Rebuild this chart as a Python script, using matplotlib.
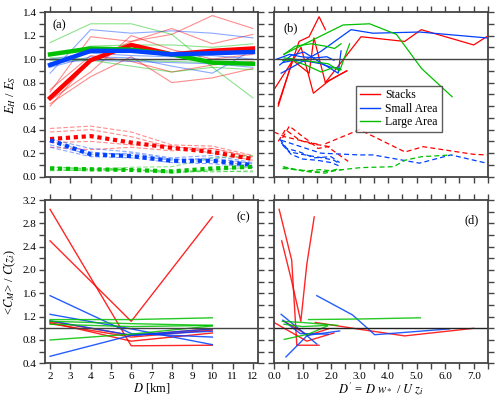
import matplotlib
matplotlib.use("Agg")
import matplotlib.pyplot as plt
from matplotlib.ticker import MultipleLocator, FormatStrFormatter

plt.rcParams['font.family'] = ['Liberation Serif', 'DejaVu Serif']
plt.rcParams['mathtext.fontset'] = 'stix'

# ---------------- data: panel (a) ----------------
D_a = [2, 4, 6, 8, 10, 12]
red_mean = [0.67, 0.99, 1.12, 1.04, 1.07, 1.09]
blue_mean = [0.95, 1.07, 1.07, 1.04, 1.05, 1.06]
green_mean = [1.04, 1.09, 1.08, 1.04, 0.97, 0.96]
red_low_mean = [0.32, 0.345, 0.29, 0.245, 0.21, 0.15]
blue_low_mean = [0.31, 0.19, 0.175, 0.135, 0.135, 0.10]
green_low_mean = [0.07, 0.063, 0.057, 0.045, 0.07, 0.085]

red_a = [[0.72, 1.19, 1.15, 1.26, 1.13, 1.21],
         [0.60, 0.99, 1.15, 1.21, 1.37, 1.26],
         [0.65, 0.89, 1.20, 1.08, 1.00, 1.04],
         [0.62, 0.85, 1.02, 0.80, 0.84, 0.92],
         [0.74, 1.03, 0.98, 0.89, 0.95, 0.98]]
blue_a = [[0.88, 1.25, 1.22, 1.24, 1.22, 1.18],
          [0.93, 1.02, 1.01, 0.94, 0.88, 1.08],
          [0.97, 0.99, 0.98, 0.97, 0.96, 0.93],
          [1.00, 1.05, 1.03, 1.02, 1.03, 1.00]]
green_a = [[1.14, 1.30, 1.30, 1.21, 0.93, 0.67],
           [1.03, 1.11, 1.12, 1.12, 1.10, 1.13],
           [0.99, 0.99, 0.94, 0.89, 0.93, 0.91],
           [1.01, 1.00, 0.99, 0.98, 0.97, 0.97]]
red_a_low = [[0.41, 0.43, 0.38, 0.27, 0.26, 0.18],
             [0.38, 0.40, 0.34, 0.25, 0.24, 0.16],
             [0.29, 0.30, 0.27, 0.26, 0.20, 0.14],
             [0.25, 0.23, 0.25, 0.22, 0.24, 0.17]]
blue_a_low = [[0.32, 0.24, 0.21, 0.16, 0.18, 0.12],
              [0.27, 0.19, 0.20, 0.15, 0.14, 0.09],
              [0.25, 0.17, 0.16, 0.12, 0.11, 0.08],
              [0.30, 0.21, 0.18, 0.14, 0.16, 0.11]]
green_a_low = [[0.08, 0.07, 0.06, 0.04, 0.06, 0.08],
               [0.06, 0.05, 0.06, 0.03, 0.05, 0.04],
               [0.085, 0.06, 0.08, 0.085, 0.16, 0.18],
               [0.05, 0.06, 0.06, 0.05, 0.04, 0.05]]

# ---------------- data: panel (b) ----------------
red_b_x = [[1.80, 3.05, 4.58, 5.16, 7.0, 7.45],
           [0.15, 0.65, 0.88, 1.23, 1.58, 1.80],
           [0.0, 0.66, 1.23, 1.40, 1.80, 2.55],
           [0.15, 0.66, 0.95, 1.38, 1.95, 2.55]]
red_b_y = [[0.80, 1.19, 1.15, 1.25, 1.12, 1.19],
           [0.60, 0.99, 1.15, 1.19, 1.36, 1.25],
           [0.74, 0.99, 0.88, 1.18, 0.80, 0.90],
           [0.62, 0.99, 1.10, 0.71, 0.82, 0.90]]
blue_b_x = [[0.25, 1.64, 2.70, 3.47, 5.1, 7.45],
            [0.2, 0.6, 1.05, 1.5, 2.25, 2.35],
            [0.3, 0.7, 1.2, 1.65, 2.0, 2.3],
            [0.1, 0.55, 0.95, 1.45, 1.85, 2.1]]
blue_b_y = [[0.88, 1.065, 1.25, 1.22, 1.23, 1.18],
            [0.95, 1.03, 1.06, 0.99, 0.88, 1.07],
            [0.97, 0.99, 0.98, 0.96, 0.93, 0.92],
            [1.00, 1.04, 1.02, 1.01, 1.02, 0.99]]
green_b_x = [[0.34, 2.42, 3.35, 4.29, 5.17, 6.24],
             [0.35, 0.75, 1.30, 1.80, 2.12, 2.35],
             [0.3, 0.65, 1.2, 1.65, 2.1, 2.35],
             [0.35, 0.7, 1.3, 1.9, 2.3, 2.65]]
green_b_y = [[1.04, 1.29, 1.30, 1.21, 0.92, 0.68],
             [1.04, 1.11, 1.13, 1.11, 1.09, 1.13],
             [0.99, 0.99, 0.94, 0.89, 0.93, 0.91],
             [1.01, 1.00, 0.98, 0.96, 0.90, 1.13]]
red_b_low_x = [[1.8, 3.0, 4.59, 5.23, 7.0, 7.46],
               [0.0, 0.37, 1.07, 1.65],
               [0.3, 0.54, 1.01, 1.25, 1.54, 2.0],
               [0.15, 0.4, 0.9, 1.3, 1.85, 2.6]]
red_b_low_y = [[0.28, 0.40, 0.21, 0.255, 0.19, 0.185],
               [0.38, 0.34, 0.30, 0.27],
               [0.33, 0.43, 0.34, 0.30, 0.24, 0.26],
               [0.30, 0.40, 0.31, 0.28, 0.26, 0.13]]
blue_b_low_x = [[0.25, 1.64, 3.0, 3.47, 5.1, 6.2, 7.45],
                [0.2, 0.45, 0.9, 1.4, 2.0, 2.3],
                [0.3, 0.6, 1.0, 1.5, 2.0, 2.3],
                [0.25, 0.55, 1.2, 1.7, 2.1, 2.3]]
blue_b_low_y = [[0.31, 0.20, 0.185, 0.185, 0.115, 0.185, 0.115],
                [0.32, 0.24, 0.21, 0.16, 0.17, 0.12],
                [0.27, 0.19, 0.15, 0.14, 0.12, 0.09],
                [0.29, 0.21, 0.18, 0.16, 0.14, 0.11]]
green_b_low_x = [[0.31, 1.07, 1.65, 3.03, 4.2, 4.59, 5.17, 6.23],
                 [0.3, 0.8, 1.3, 1.8, 2.1, 2.4],
                 [0.35, 0.7, 1.2, 1.6, 2.0, 2.3]]
green_b_low_y = [[0.085, 0.045, 0.04, 0.077, 0.085, 0.14, 0.17, 0.185],
                 [0.07, 0.06, 0.04, 0.03, 0.05, 0.06],
                 [0.08, 0.06, 0.05, 0.06, 0.05, 0.07]]

# ---------------- data: panel (c) ----------------
D_c = [2, 6, 10]
red_c = [[3.04, 0.70, 0.71],
         [2.50, 1.12, 2.91],
         [1.10, 0.78, 0.92],
         [1.12, 0.88, 0.99],
         [1.08, 0.85, 0.97]]
blue_c = [[1.56, 0.91, 0.85],
          [1.24, 0.99, 0.72],
          [0.52, 0.88, 0.95],
          [1.13, 0.88, 0.99]]
green_c = [[1.15, 1.15, 1.18],
           [1.12, 1.08, 1.05],
           [1.07, 1.03, 1.05],
           [0.80, 0.90, 1.04]]

# ---------------- data: panel (d) ----------------
red_d_x = [[0.18, 0.62, 0.80, 1.58],
           [0.27, 0.60, 0.94, 1.15, 1.41],
           [1.45, 3.05, 4.58, 7.0],
           [0.0, 1.15, 2.10],
           [0.35, 1.2, 1.9]]
red_d_y = [[3.04, 2.17, 0.71, 0.71],
           [2.50, 1.85, 1.12, 2.10, 2.91],
           [1.10, 0.98, 0.87, 1.00],
           [1.10, 0.78, 0.92],
           [1.12, 0.88, 0.99]]
blue_d_x = [[1.50, 2.75, 3.53, 6.15],
            [0.25, 0.9, 1.50],
            [0.42, 1.17, 2.3],
            [0.31, 0.92, 1.9]]
blue_d_y = [[1.56, 1.23, 0.89, 0.99],
            [1.24, 0.98, 0.73],
            [0.51, 0.88, 0.955],
            [1.14, 0.91, 0.90]]
green_d_x = [[1.21, 3.0, 5.13],
             [0.29, 1.0, 2.23],
             [0.35, 1.0, 1.87],
             [0.36, 1.2, 1.87]]
green_d_y = [[1.15, 1.16, 1.18],
             [1.12, 1.10, 1.05],
             [1.07, 1.03, 1.05],
             [0.81, 0.90, 1.04]]

RED, BLUE, GREEN = '#ff0000', '#0040ff', '#00c000'
SPINE = '#444444'

fig = plt.figure(figsize=(5.0, 4.01), dpi=100)
L1, R1_, L2, R2_ = 0.090, 0.516, 0.548, 0.976
T1, B1_ = 0.970, 0.5594
T2, B2_ = 0.5012, 0.094
ax_a = fig.add_axes([L1, B1_, R1_ - L1, T1 - B1_])
ax_b = fig.add_axes([L2, B1_, R2_ - L2, T1 - B1_])
ax_c = fig.add_axes([L1, B2_, R1_ - L1, T2 - B2_])
ax_d = fig.add_axes([L2, B2_, R2_ - L2, T2 - B2_])

def style(ax):
    for s in ax.spines.values():
        s.set_color(SPINE)
        s.set_linewidth(1.3)
    ax.tick_params(which='both', direction='out', top=True, right=True,
                   color=SPINE, labelsize=8, width=1.0, pad=2)
    ax.tick_params(which='major', length=4)
    ax.tick_params(which='minor', length=4)

thin_a = dict(lw=0.8, alpha=0.45)
dash_a = dict(lw=0.8, alpha=0.45, dashes=(4, 2))
for ys in red_a:
    ax_a.plot(D_a, ys, color=RED, **thin_a)
for ys in blue_a:
    ax_a.plot(D_a, ys, color=BLUE, **thin_a)
for ys in green_a:
    ax_a.plot(D_a, ys, color=GREEN, **thin_a)
for ys in red_a_low:
    ax_a.plot(D_a, ys, color=RED, **dash_a)
for ys in blue_a_low:
    ax_a.plot(D_a, ys, color=BLUE, **dash_a)
for ys in green_a_low:
    ax_a.plot(D_a, ys, color=GREEN, **dash_a)
ax_a.axhline(1.0, color=SPINE, lw=1.0)
ax_a.plot(D_a, red_mean, color=RED, lw=3.2)
ax_a.plot(D_a, green_mean, color=GREEN, lw=3.2)
ax_a.plot(D_a, blue_mean, color=BLUE, lw=3.2)
dot = dict(lw=3.0, dashes=(1, 0.9), dash_capstyle='butt')
ax_a.plot(D_a, red_low_mean, color=RED, **dot)
ax_a.plot(D_a, blue_low_mean, color=BLUE, **dot)
ax_a.plot(D_a, green_low_mean, color=GREEN, **dot)
ax_a.set_xlim(1.75, 12.25)
ax_a.set_ylim(0, 1.4)
ax_a.xaxis.set_major_locator(MultipleLocator(1))
ax_a.yaxis.set_major_locator(MultipleLocator(0.2))
ax_a.yaxis.set_minor_locator(MultipleLocator(0.1))
ax_a.yaxis.set_major_formatter(FormatStrFormatter('%.1f'))
ax_a.set_xticklabels([])
ax_a.set_ylabel(r'$E_H$ / $E_S$', fontsize=9, labelpad=3)
ax_a.text(0.035, 0.955, '(a)', transform=ax_a.transAxes, fontsize=9, va='top')
style(ax_a)

thin_b = dict(lw=0.9)
dash_b = dict(lw=0.9, dashes=(4, 2.5))
for xs, ys in zip(red_b_x, red_b_y):
    ax_b.plot(xs, ys, color=RED, **thin_b)
for xs, ys in zip(blue_b_x, blue_b_y):
    ax_b.plot(xs, ys, color=BLUE, **thin_b)
for xs, ys in zip(green_b_x, green_b_y):
    ax_b.plot(xs, ys, color=GREEN, **thin_b)
for xs, ys in zip(red_b_low_x, red_b_low_y):
    ax_b.plot(xs, ys, color=RED, **dash_b)
for xs, ys in zip(blue_b_low_x, blue_b_low_y):
    ax_b.plot(xs, ys, color=BLUE, **dash_b)
for xs, ys in zip(green_b_low_x, green_b_low_y):
    ax_b.plot(xs, ys, color=GREEN, **dash_b)
ax_b.axhline(1.0, color=SPINE, lw=1.0)
ax_b.set_xlim(0, 7.5)
ax_b.set_ylim(0, 1.4)
ax_b.xaxis.set_major_locator(MultipleLocator(1))
ax_b.xaxis.set_minor_locator(MultipleLocator(0.5))
ax_b.yaxis.set_major_locator(MultipleLocator(0.2))
ax_b.yaxis.set_minor_locator(MultipleLocator(0.1))
ax_b.set_xticklabels([])
ax_b.set_yticklabels([])
ax_b.text(0.045, 0.94, '(b)', transform=ax_b.transAxes, fontsize=9, va='top')
h1, = ax_b.plot([], [], color=RED, lw=1, label='Stacks')
h2, = ax_b.plot([], [], color=BLUE, lw=1, label='Small Area')
h3, = ax_b.plot([], [], color=GREEN, lw=1, label='Large Area')
leg = ax_b.legend(handles=[h1, h2, h3], loc='upper left', bbox_to_anchor=(0.383, 0.551),
                  fontsize=8.5, frameon=True, fancybox=False, edgecolor='#333333',
                  handlelength=1.7, borderpad=0.3, labelspacing=0.12, handletextpad=0.5,
                  borderaxespad=0)
leg.get_frame().set_linewidth(1.0)
style(ax_b)

line_c = dict(lw=1.0, alpha=0.85)
for ys in red_c:
    ax_c.plot(D_c, ys, color=RED, **line_c)
for ys in blue_c:
    ax_c.plot(D_c, ys, color=BLUE, **line_c)
for ys in green_c:
    ax_c.plot(D_c, ys, color=GREEN, **line_c)
ax_c.axhline(1.0, color=SPINE, lw=1.0)
ax_c.set_xlim(1.75, 12.25)
ax_c.set_ylim(0.4, 3.2)
ax_c.xaxis.set_major_locator(MultipleLocator(1))
ax_c.yaxis.set_major_locator(MultipleLocator(0.4))
ax_c.yaxis.set_minor_locator(MultipleLocator(0.2))
ax_c.yaxis.set_major_formatter(FormatStrFormatter('%.1f'))
ax_c.set_xlabel(r'$D$ [km]', fontsize=9, labelpad=0)
ax_c.set_ylabel(r'<$C_M$> / $C$($z_i$)', fontsize=9, labelpad=3)
ax_c.text(0.965, 0.93, '(c)', transform=ax_c.transAxes, fontsize=9, va='top', ha='right')
style(ax_c)

for xs, ys in zip(red_d_x, red_d_y):
    ax_d.plot(xs, ys, color=RED, **line_c)
for xs, ys in zip(blue_d_x, blue_d_y):
    ax_d.plot(xs, ys, color=BLUE, **line_c)
for xs, ys in zip(green_d_x, green_d_y):
    ax_d.plot(xs, ys, color=GREEN, **line_c)
ax_d.axhline(1.0, color='#222222', lw=1.0)
ax_d.set_xlim(0, 7.5)
ax_d.set_ylim(0.4, 3.2)
ax_d.xaxis.set_major_locator(MultipleLocator(1))
ax_d.xaxis.set_minor_locator(MultipleLocator(0.5))
ax_d.xaxis.set_major_formatter(FormatStrFormatter('%.1f'))
ax_d.yaxis.set_major_locator(MultipleLocator(0.4))
ax_d.yaxis.set_minor_locator(MultipleLocator(0.2))
ax_d.set_yticklabels([])
ax_d.set_xlabel(r"$D'$ = $D$ $w_*$ / $U$ $z_i$", fontsize=9, labelpad=0)
ax_d.text(0.955, 0.915, '(d)', transform=ax_d.transAxes, fontsize=9, va='top', ha='right')
style(ax_d)

fig.savefig('out.png', dpi=100)
